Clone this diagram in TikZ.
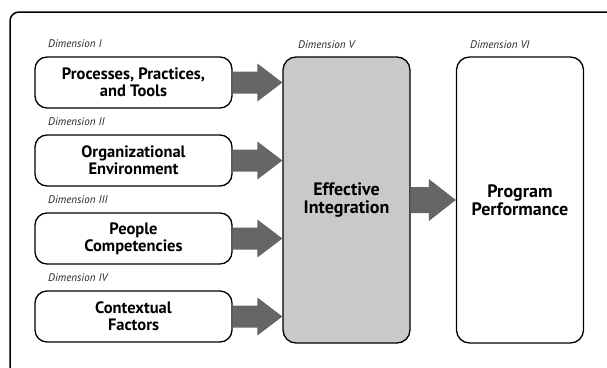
\documentclass[tikz,border=0pt]{standalone}
\usepackage{fontspec}
\setmainfont{PT Sans}
\usetikzlibrary{calc}
\definecolor{arrowgray}{gray}{0.40}
\definecolor{boxgray}{gray}{0.79}
\tikzset{
  dimbox/.style={draw=black, line width=1.3pt, rounded corners=12pt, fill=white,
    minimum width=197pt, minimum height=51pt, align=center,
    font=\bfseries\fontsize{16.5}{17}\selectfont, inner sep=0pt},
  tallbox/.style={draw=black, line width=1.3pt, rounded corners=13pt,
    minimum width=127pt, minimum height=286pt, align=center,
    font=\bfseries\fontsize{18}{18}\selectfont, inner sep=0pt},
  dimlab/.style={anchor=west, font=\itshape\fontsize{11}{12}\selectfont, text=black!85, inner sep=0pt},
  frame/.style={draw=black, line width=1.5pt, rounded corners=9pt},
  arrowfill/.style={fill=arrowgray}
}
\newcommand\fatarrow[5]{%
  \fill[arrowfill] let \p1=(#1), \p2=(#2) in
    (\x1,\y1+#3) -- (\x2-#5,\y1+#3) -- (\x2-#5,\y1+#4) -- (\x2,\y1) --
    (\x2-#5,\y1-#4) -- (\x2-#5,\y1-#3) -- (\x1,\y1-#3) -- cycle;}
\begin{document}
\begin{tikzpicture}[x=1pt,y=-1pt]
\useasboundingbox (0,0) rectangle (607,367);
\clip (0,0) rectangle (607,367);
\fill[white] (0,0) rectangle (607,367);
\draw[frame] (10,12) rectangle (640,400);

\node[dimbox] (b1) at (133.5,82.5) {Processes, Practices,\\and Tools};
\node[dimbox] (b2) at (133.5,160.5) {Organizational\\Environment};
\node[dimbox] (b3) at (133.5,238.5) {People\\Competencies};
\node[dimbox] (b4) at (133.5,316.5) {Contextual\\Factors};

\node[tallbox, fill=boxgray] (v) at (346.5,200) {Effective\\Integration};
\node[tallbox, fill=white] (vi) at (520,200) {Program\\Performance};

\node[dimlab] (l1) at (48,44) {Dimension I};
\node[dimlab] (l2) at (48,122) {Dimension II};
\node[dimlab] (l3) at (48,200) {Dimension III};
\node[dimlab] (l4) at (48,278) {Dimension IV};
\node[dimlab] (l5) at (298,45) {Dimension V};
\node[dimlab] (l6) at (470,45) {Dimension VI};

\fatarrow{b1.east}{v.west |- b1.east}{11pt}{19pt}{25pt}
\fatarrow{b2.east}{v.west |- b2.east}{11pt}{19pt}{25pt}
\fatarrow{b3.east}{v.west |- b3.east}{11pt}{19pt}{25pt}
\fatarrow{b4.east}{v.west |- b4.east}{11pt}{19pt}{25pt}
\fatarrow{v.east}{vi.west}{13pt}{21pt}{27pt}
\end{tikzpicture}
\end{document}
